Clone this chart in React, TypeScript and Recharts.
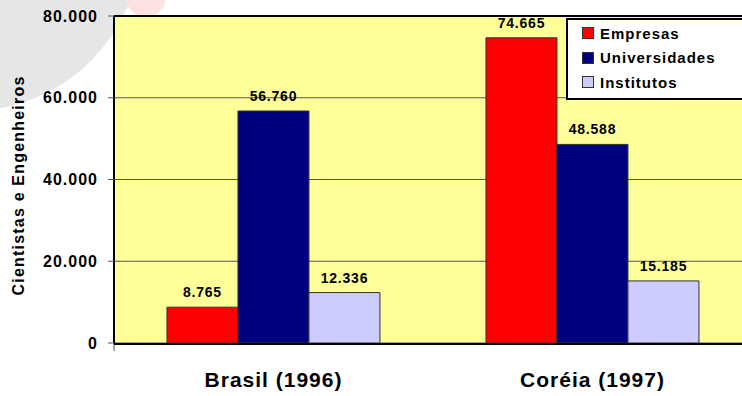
import { BarChart, Bar, XAxis, YAxis, CartesianGrid, Legend, LabelList, ReferenceLine } from "recharts";

const categories = ["Brasil (1996)", "Coréia (1997)"];
const seriesNames = ["Empresas", "Universidades", "Institutos"];
const empresas = [8765, 74665];
const universidades = [56760, 48588];
const institutos = [12336, 15185];
const yTicks = [0, 20000, 40000, 60000, 80000];
const edgeTicks = [0, 1, 2];

const data = categories.map((name, i) => ({
  name,
  empresas: empresas[i],
  universidades: universidades[i],
  institutos: institutos[i],
}));

const FONT = "'Liberation Sans', Arial, sans-serif";

// 56760 -> "56.760"
const fmt = (v: number) => String(v).replace(/\B(?=(\d{3})+(?!\d))/g, ".");

const LegendBox = ({ payload }: any) => {
  const items = [...(payload || [])].sort(
    (a: any, b: any) => seriesNames.indexOf(a.value) - seriesNames.indexOf(b.value)
  );
  return (
    <div
      style={{
        background: "#fff",
        border: "2px solid #000",
        padding: "1px 0 3px 14px",
        fontFamily: FONT,
        fontWeight: "bold",
        fontSize: 15,
        letterSpacing: 1,
        color: "#000",
      }}
    >
      {items.map((p: any) => (
        <div key={p.value} style={{ display: "flex", alignItems: "center", height: 24.5 }}>
          <span
            style={{
              display: "inline-block",
              width: 10,
              height: 10,
              background: p.color,
              border: "1px solid #333",
              marginRight: 6,
            }}
          />
          {p.value}
        </div>
      ))}
    </div>
  );
};

const YLabel = ({ viewBox }: any) => {
  const cy = viewBox.y + viewBox.height / 2 + 6;
  return (
    <text
      x={24}
      y={cy}
      transform={`rotate(-90, 24, ${cy})`}
      textAnchor="middle"
      fontFamily={FONT}
      fontWeight="bold"
      fontSize={16}
      letterSpacing={1.2}
      fill="#000"
    >
      Cientistas e Engenheiros
    </text>
  );
};

const labelStyle = { fontFamily: FONT, fontWeight: "bold", fontSize: 14, letterSpacing: 0.8 };

export default function App() {
  return (
    <div style={{ position: "absolute", left: 0, top: 0, width: 742, height: 396, overflow: "hidden", background: "#fff" }}>
      {/* slide decoration behind the chart */}
      <div style={{ position: "absolute", left: -201, top: -231, width: 342, height: 342, borderRadius: "50%", background: "#e6e6e6" }} />
      <div style={{ position: "absolute", left: 126, top: -23, width: 40, height: 40, borderRadius: "50%", background: "#fde2e2" }} />
      <div style={{ position: "absolute", left: 0, top: 0 }}>
        <BarChart
          width={760}
          height={396}
          data={data}
          margin={{ top: 16, right: 8, bottom: 0, left: 0 }}
          barCategoryGap="16.6%"
          barGap={0}
        >
          <CartesianGrid xAxisId="b" vertical={false} fill="#FFFF99" stroke="#555" />
          {/* axis "a" only draws the tick marks between the groups */}
          <XAxis
            xAxisId="a"
            type="number"
            domain={[0, 2]}
            ticks={edgeTicks}
            allowDataOverflow
            tickFormatter={() => ""}
            axisLine={false}
            tickLine={{ stroke: "#555", strokeWidth: 1 }}
            tickSize={8}
            height={1}
          />
          <XAxis
            xAxisId="b"
            dataKey="name"
            tickLine={false}
            axisLine={{ stroke: "#000", strokeWidth: 2 }}
            height={52}
            tickMargin={22}
            tick={{ fill: "#000", fontFamily: FONT, fontWeight: "bold", fontSize: 21, letterSpacing: 1 }}
          />
          <YAxis
            domain={[0, 80000]}
            ticks={yTicks}
            width={114}
            tickFormatter={fmt}
            axisLine={{ stroke: "#000", strokeWidth: 2 }}
            tickLine={{ stroke: "#555" }}
            tickSize={6}
            tickMargin={10}
            tick={{ fill: "#000", fontFamily: FONT, fontWeight: "bold", fontSize: 16, letterSpacing: 1 }}
            label={<YLabel />}
          />
          <ReferenceLine xAxisId="b" y={80000} stroke="#000" strokeWidth={2} />
          <Legend
            layout="vertical"
            align="center"
            verticalAlign="middle"
            wrapperStyle={{ top: 18, left: 566, width: 190 }}
            content={<LegendBox />}
          />
          <Bar xAxisId="b" dataKey="empresas" name="Empresas" fill="#FF0000" stroke="#333" strokeWidth={1} isAnimationActive={false}>
            <LabelList dataKey="empresas" position="top" offset={10} formatter={fmt} fill="#000" style={labelStyle} />
          </Bar>
          <Bar xAxisId="b" dataKey="universidades" name="Universidades" fill="#000080" stroke="#333" strokeWidth={1} isAnimationActive={false}>
            <LabelList dataKey="universidades" position="top" offset={10} formatter={fmt} fill="#000" style={labelStyle} />
          </Bar>
          <Bar xAxisId="b" dataKey="institutos" name="Institutos" fill="#CCCCFF" stroke="#333" strokeWidth={1} isAnimationActive={false}>
            <LabelList dataKey="institutos" position="top" offset={10} formatter={fmt} fill="#000" style={labelStyle} />
          </Bar>
        </BarChart>
      </div>
    </div>
  );
}
